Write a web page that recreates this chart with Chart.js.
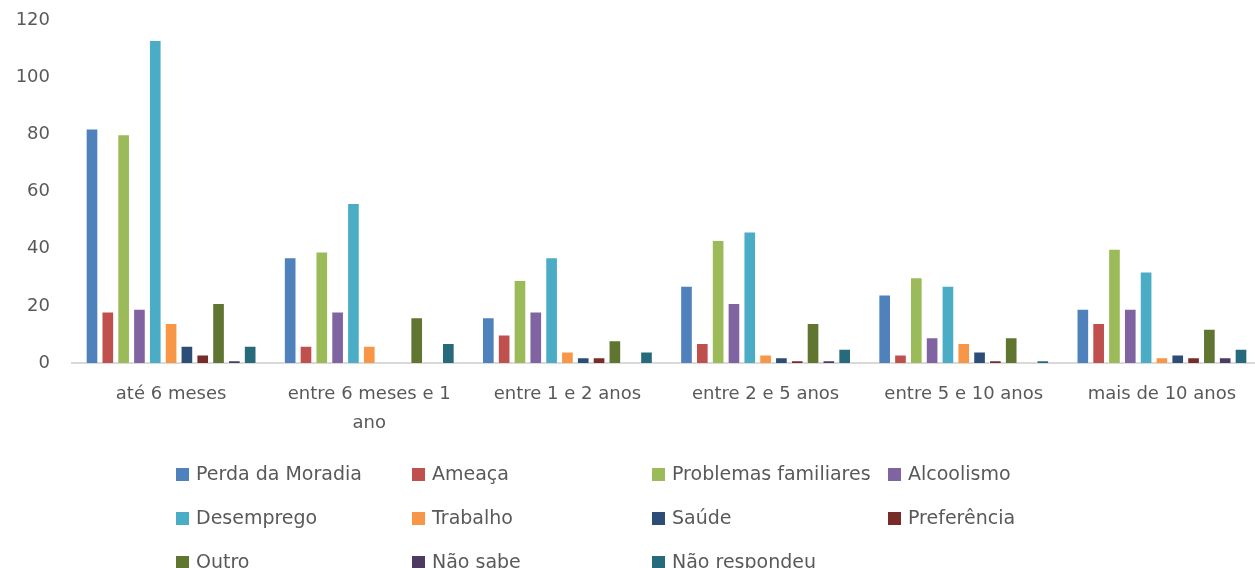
<!DOCTYPE html>
<html>
<head>
<meta charset="utf-8">
<script src="https://cdn.jsdelivr.net/npm/chart.js"></script>
<style>
  html, body { margin: 0; padding: 0; background: #fff; overflow: hidden; }
  #wrap { width: 1262px; height: 568px; }
</style>
</head>
<body>
<div id="wrap"><canvas id="grafico" width="1262" height="568"></canvas></div>
<script>
// tempo na rua x motivo
const categorias = ['até 6 meses', ['entre 6 meses e 1', 'ano'], 'entre 1 e 2 anos', 'entre 2 e 5 anos', 'entre 5 e 10 anos', 'mais de 10 anos'];

const perdaMoradia   = [82, 37, 16, 27, 24, 19];
const ameaca         = [18, 6, 10, 7, 3, 14];
const problemasFam   = [80, 39, 29, 43, 30, 40];
const alcoolismo     = [19, 18, 18, 21, 9, 19];
const desemprego     = [113, 56, 37, 46, 27, 32];
const trabalho       = [14, 6, 4, 3, 7, 2];
const saude          = [6, 0, 2, 2, 4, 3];
const preferencia    = [3, 0, 2, 1, 1, 2];
const outro          = [21, 16, 8, 14, 9, 12];
const naoSabe        = [1, 0, 0, 1, 0, 2];
const naoRespondeu   = [6, 7, 4, 5, 1, 5];

const nomes = ['Perda da Moradia', 'Ameaça', 'Problemas familiares', 'Alcoolismo', 'Desemprego', 'Trabalho', 'Saúde', 'Preferência', 'Outro', 'Não sabe', 'Não respondeu'];
const series = [perdaMoradia, ameaca, problemasFam, alcoolismo, desemprego, trabalho, saude, preferencia, outro, naoSabe, naoRespondeu];
const cores = ['#4F81BD', '#C0504D', '#9BBB59', '#8064A2', '#4BACC6', '#F79646', '#2C4D75', '#772C2A', '#5F7530', '#4D3B62', '#276A7C'];

const eixoY = [0, 20, 40, 60, 80, 100, 120];

const cinza = '#595959';
const fonte = '"DejaVu Sans", sans-serif';

// legenda em grade de 4 colunas, desenhada embaixo do grafico
const legendaGrade = {
  id: 'legendaGrade',
  afterDraw(chart) {
    const ctx = chart.ctx;
    const colunas = [176, 412, 652, 888];
    const topo = 474;
    const passo = 44;
    ctx.save();
    ctx.font = '19px ' + fonte;
    ctx.textBaseline = 'middle';
    chart.data.datasets.forEach((ds, i) => {
      const x = colunas[i % 4];
      const y = topo + Math.floor(i / 4) * passo;
      ctx.fillStyle = ds.backgroundColor;
      ctx.fillRect(x, y - 6, 13, 13);
      ctx.fillStyle = cinza;
      ctx.fillText(ds.label, x + 20, y + 1);
    });
    ctx.restore();
  }
};

const datasets = [];
for (let i = 0; i < series.length; i++) {
  datasets.push({
    label: nomes[i],
    data: series[i],
    backgroundColor: cores[i],
    borderColor: 'rgba(255,255,255,0.55)',
    borderWidth: 1,
    categoryPercentage: 0.878,
    barPercentage: 0.8
  });
}

new Chart(document.getElementById('grafico'), {
  type: 'bar',
  data: { labels: categorias, datasets: datasets },
  plugins: [legendaGrade],
  options: {
    responsive: false,
    animation: false,
    layout: { padding: { top: 20, right: 1, bottom: 120, left: 0 } },
    plugins: {
      legend: { display: false },
      tooltip: { enabled: false }
    },
    scales: {
      x: {
        grid: { display: false, drawTicks: false },
        border: { color: '#d9d9d9', width: 2 },
        ticks: {
          color: cinza,
          font: { family: fonte, size: 18, lineHeight: 1.6 },
          padding: 17,
          maxRotation: 0,
          autoSkip: false
        },
        afterFit(scale) { scale.height = 85; }
      },
      y: {
        min: 0,
        max: 120,
        grid: { display: false, drawTicks: false },
        border: { display: false },
        ticks: {
          color: cinza,
          font: { family: fonte, size: 18 },
          padding: 22,
          stepSize: 20,
          callback: (v) => eixoY.includes(v) ? v : ''
        },
        afterFit(scale) {
          scale.width = 72;
          scale.paddingTop = 0;
        }
      }
    }
  }
});
</script>
</body>
</html>
